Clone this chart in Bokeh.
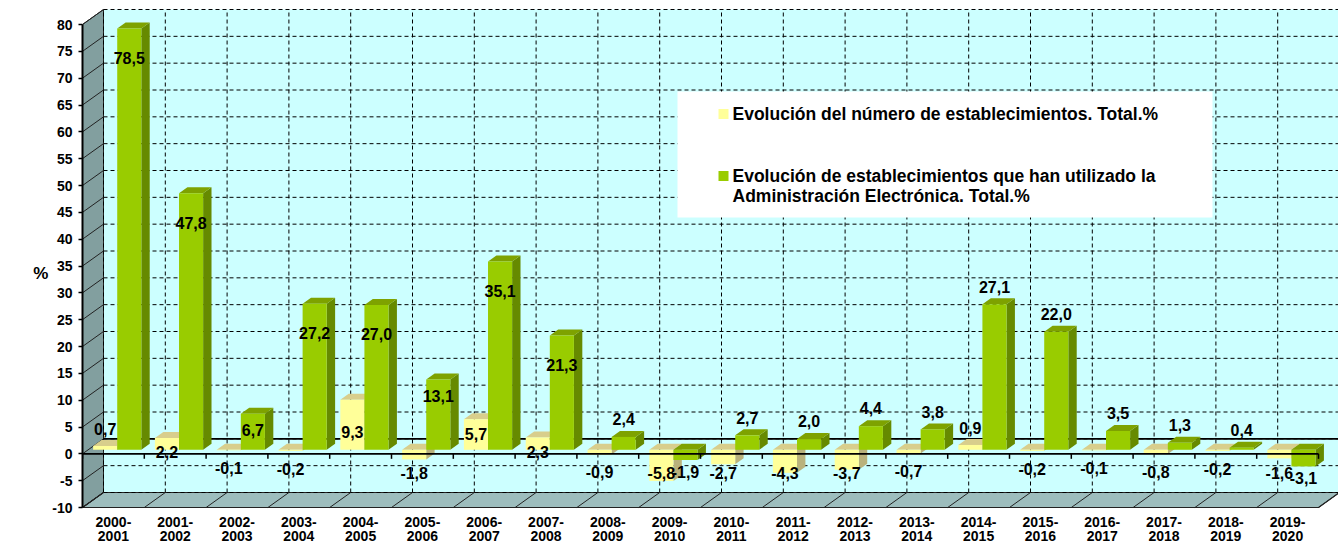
from bokeh.plotting import figure
from bokeh.models import Range1d, FixedTicker
from bokeh.embed import file_html
from bokeh.resources import INLINE
from bokeh.core.properties import value

# ---------------- data ----------------
categories = ["2000-2001", "2001-2002", "2002-2003", "2003-2004", "2004-2005",
              "2005-2006", "2006-2007", "2007-2008", "2008-2009", "2009-2010",
              "2010-2011", "2011-2012", "2012-2013", "2013-2014", "2014-2015",
              "2015-2016", "2016-2017", "2017-2018", "2018-2019", "2019-2020"]
establecimientos = [0.7, 2.2, -0.1, -0.2, 9.3, -1.8, 5.7, 2.3, -0.9, -5.8,
                    -2.7, -4.3, -3.7, -0.7, 0.9, -0.2, -0.1, -0.8, -0.2, -1.6]
admin_electronica = [78.5, 47.8, 6.7, 27.2, 27.0, 13.1, 35.1, 21.3, 2.4, -1.9,
                     2.7, 2.0, 4.4, 3.8, 27.1, 22.0, 3.5, 1.3, 0.4, -3.1]
y_ticks = list(range(-10, 81, 5))
series_names = ["Evolución del número de establecimientos. Total.%",
                "Evolución de establecimientos que han utilizado la\nAdministración Electrónica. Total.%"]
y_axis_title = "%"

# ---------------- layout constants ----------------
FONT = "Liberation Sans"
W, H = 1338, 546
LEFT = 82              # px of the front value axis
PX_CAT = 61.8          # px per category
N = len(categories)
YMIN, YMAX = -10, 80
Y80, YM10 = 24, 507    # px of value 80 and -10 on the front axis
PX_VAL = (YM10 - Y80) / (YMAX - YMIN)
x_end = (W - LEFT) / PX_CAT
y_top = YMAX + Y80 / PX_VAL
y_bot = YMIN - (H - YM10) / PX_VAL

DX = 21 / PX_CAT       # 3D depth offset (category units)
DY = 15 / PX_VAL       # 3D depth offset (value units)
F0, F1 = 0.27, 0.67    # bar front / back depth fractions
SLOTS = [(0.08, 0.47), (0.47, 0.86)]


def X(px):   # page px -> data x
    return (px - LEFT) / PX_CAT


def Y(py):   # page px -> data y
    return YMAX - (py - Y80) / PX_VAL


p = figure(width=W, height=H, x_range=Range1d(0, x_end), y_range=Range1d(y_bot, y_top),
           output_backend="svg", toolbar_location=None,
           min_border_left=LEFT, min_border_right=0, min_border_top=0, min_border_bottom=0,
           x_axis_location=None)
p.xgrid.visible = False
p.ygrid.visible = False
p.outline_line_color = None
p.background_fill_color = "white"
p.border_fill_color = "white"

# value axis (front)
yax = p.yaxis[0]
yax.ticker = FixedTicker(ticks=y_ticks)
yax.bounds = (YMIN, YMAX)
yax.major_label_overrides = {t: str(t) for t in y_ticks}
yax.axis_line_color = "black"
yax.axis_line_width = 2
yax.major_tick_line_color = "black"
yax.major_tick_line_width = 1.5
yax.major_tick_out = 4
yax.major_tick_in = 0
yax.minor_tick_line_color = None
yax.major_label_standoff = 6
yax.major_label_text_font = FONT
yax.major_label_text_font_style = "bold"
yax.major_label_text_font_size = "14px"
yax.major_label_text_color = "black"
yax.axis_label = y_axis_title
yax.axis_label_orientation = "horizontal"
yax.axis_label_standoff = 1
yax.axis_label_text_font = FONT
yax.axis_label_text_font_style = "bold"
yax.axis_label_text_font_size = "17px"
yax.axis_label_text_color = "black"

# ---------------- walls ----------------
wall_r = N + DX
p.quad(left=DX, right=wall_r, bottom=YMIN + DY, top=YMAX + DY, fill_color="#CCFFFF", line_color=None)
p.patch([0, 0, DX, DX], [YMIN, YMAX, YMAX + DY, YMIN + DY], fill_color="#829F9F",
        line_color="#222222", line_width=1)
p.patch([0, N, N + DX, DX], [YMIN, YMIN, YMIN + DY, YMIN + DY], fill_color="#9DBDBD",
        line_color="#222222", line_width=1.2)

# back wall grid
hy = [t + DY for t in y_ticks]
p.segment(x0=[DX] * len(y_ticks), y0=hy, x1=[wall_r] * len(y_ticks), y1=hy,
          line_color="black", line_width=1, line_dash="4 3")
vx = [i + DX for i in range(N + 1)]
p.segment(x0=vx, y0=[YMIN + DY] * len(vx), x1=vx, y1=[YMAX + DY] * len(vx),
          line_color="black", line_width=1, line_dash="4 3")
# side wall lines
p.segment(x0=[0] * len(y_ticks), y0=y_ticks, x1=[DX] * len(y_ticks), y1=hy,
          line_color="#222222", line_width=1)
# floor lines
fx = list(range(N + 1))
p.segment(x0=fx, y0=[YMIN] * len(fx), x1=[f + DX for f in fx], y1=[YMIN + DY] * len(fx),
          line_color="#222222", line_width=1)
# back zero line
p.segment(x0=[DX], y0=[DY], x1=[wall_r], y1=[DY], line_color="black", line_width=1.6)


# ---------------- bars ----------------
def faces(vals, slot):
    a, b = slot
    d = (F1 - F0) * DX
    e = (F1 - F0) * DY
    fr, tp, sd = ([], []), ([], []), ([], [])
    for i, v in enumerate(vals):
        x0 = i + a + F0 * DX
        x1 = i + b + F0 * DX
        y0 = min(0, v) + F0 * DY
        y1 = max(0, v) + F0 * DY
        fr[0].append([x0, x1, x1, x0]); fr[1].append([y0, y0, y1, y1])
        tp[0].append([x0, x1, x1 + d, x0 + d]); tp[1].append([y1, y1, y1 + e, y1 + e])
        sd[0].append([x1, x1 + d, x1 + d, x1]); sd[1].append([y0, y0 + e, y1 + e, y1])
    return fr, tp, sd


series = [(establecimientos, SLOTS[0], ("#FFFF99", "#D8CE8C", "#B9B27C")),
          (admin_electronica, SLOTS[1], ("#99CC00", "#7EA200", "#668A00"))]
for vals, slot, (cf, ct, cs) in series:
    fr, tp, sd = faces(vals, slot)
    p.patches(xs=sd[0], ys=sd[1], fill_color=cs, line_color=None)
    p.patches(xs=tp[0], ys=tp[1], fill_color=ct, line_color=None)
    p.patches(xs=fr[0], ys=fr[1], fill_color=cf, line_color=None)

# front zero (category) line with ticks
p.segment(x0=[0], y0=[0], x1=[N], y1=[0], line_color="black", line_width=1.6)
tick_len = 5 / PX_VAL
p.segment(x0=fx, y0=[0] * len(fx), x1=fx, y1=[-tick_len] * len(fx), line_color="black", line_width=1.5)

# category labels (two lines each)
cx, cy, ct_ = [], [], []
for i, c in enumerate(categories):
    first, second = c.split("-")
    cx += [i + 0.5, i + 0.5]
    cy += [Y(521), Y(535)]
    ct_ += [first + "-", second]
p.text(x=cx, y=cy, text=ct_, text_font=value(FONT), text_font_style="bold", text_font_size="14px",
       text_align="center", text_baseline="middle", text_color="black")


# ---------------- data labels ----------------
def fmt(v):
    return f"{v:.1f}".replace(".", ",")


def est_label_y(i, v):
    if v >= 8:
        return v - 6
    if v >= 1:
        return v - 2.7
    if v >= 0:
        return v + 3.1
    return max(v - 3.3, -4.3)


def adm_label_y(i, v):
    if v < 0:
        return v - 2.2
    if i < 8:
        return v - (5.5 if v > 15 else 3)
    return v + 3.3


lx, ly, lt = [], [], []
for i, v in enumerate(establecimientos):
    a, b = SLOTS[0]
    lx.append(i + (a + b) / 2 + F0 * DX); ly.append(est_label_y(i, v) + F0 * DY); lt.append(fmt(v))
for i, v in enumerate(admin_electronica):
    a, b = SLOTS[1]
    lx.append(i + (a + b) / 2 + F0 * DX); ly.append(adm_label_y(i, v) + F0 * DY); lt.append(fmt(v))
p.text(x=lx, y=ly, text=lt, text_font=value(FONT), text_font_style="bold", text_font_size="16px",
       text_align="center", text_baseline="middle", text_color="black")

# ---------------- legend ----------------
p.quad(left=X(677), right=X(1212), top=Y(91), bottom=Y(217), fill_color="white", line_color=None)
leg_colors = ["#FFFF99", "#99CC00"]
leg_rows = [113.5, 175.5]
for name, col, row in zip(series_names, leg_colors, leg_rows):
    p.quad(left=X(718), right=X(728), top=Y(row - 5), bottom=Y(row + 5), fill_color=col, line_color=None)
    lines = name.split("\n")
    p.text(x=[X(732)] * len(lines), y=[Y(row + 20 * k) for k in range(len(lines))], text=lines,
           text_font=value(FONT), text_font_style="bold", text_font_size="17.5px",
           text_align="left", text_baseline="middle", text_color="black")

open("out.html", "w").write(file_html(p, INLINE))
